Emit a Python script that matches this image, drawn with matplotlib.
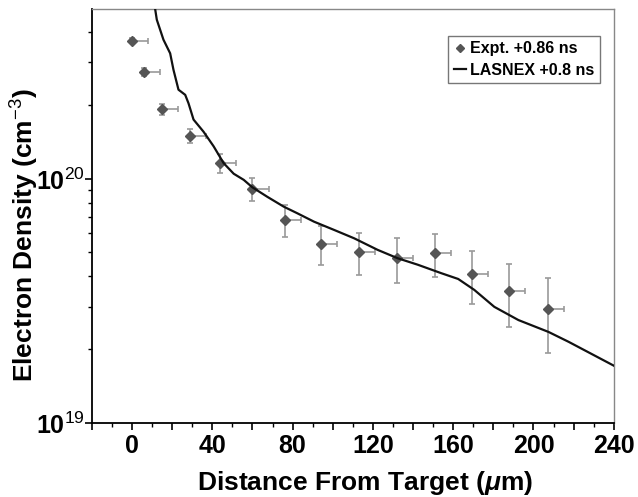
import matplotlib
matplotlib.use("Agg")
import matplotlib.pyplot as plt
from matplotlib.ticker import FixedLocator, FixedFormatter, LogLocator, NullFormatter, MultipleLocator
import numpy as np

plt.rcParams['font.family'] = ['Liberation Sans', 'DejaVu Sans']
plt.rcParams['mathtext.fontset'] = 'custom'
plt.rcParams['mathtext.rm'] = 'Liberation Sans'
plt.rcParams['mathtext.bf'] = 'Liberation Sans:bold'
plt.rcParams['mathtext.it'] = 'Liberation Sans:bold:italic'

# experiment (+0.86 ns), density in units of 1e19 cm^-3
expt_x = [0, 6, 15, 29, 44, 60, 76, 94, 113, 132, 151, 169.5, 188, 207]
expt_ne = [36.9, 27.4, 19.3, 15.0, 11.6, 9.1, 6.8, 5.43, 5.03, 4.73, 4.95, 4.08, 3.47, 2.93]
expt_yerr = [1.0] * len(expt_x)
expt_xerr = [8] * len(expt_x)

# LASNEX (+0.8 ns)
sim_x = [11.5, 12.35, 15.65, 19.0, 20.65, 23.15, 26.5, 28.15, 30.65, 35.65, 40.65,
         45.65, 50.65, 55.65, 59.85, 67.35, 75.65, 82.35, 90.65, 100.65, 110.65,
         122.35, 132.35, 142.35, 154, 162.5, 170.5, 180.5, 192.5, 207.5, 217.5, 241]
sim_ne = [49.8, 44.9, 37.2, 32.7, 28.0, 23.2, 22.1, 20.4, 17.5, 15.6, 13.6,
          11.6, 10.5, 9.91, 9.25, 8.45, 7.69, 7.23, 6.68, 6.18, 5.71,
          5.12, 4.73, 4.45, 4.11, 3.89, 3.51, 2.99, 2.64, 2.36, 2.15, 1.70]

scale = 1e19
ex = np.array(expt_x)
ey = np.array(expt_ne) * scale
eyerr = np.array(expt_yerr) * scale
exerr = [np.zeros(len(ex)), np.array(expt_xerr)]

fig = plt.figure(figsize=(6.38, 4.97), dpi=100)
ax = fig.add_axes([0.144, 0.149, 0.818, 0.833])

ax.errorbar(ex, ey, yerr=eyerr, xerr=exerr, fmt='none', ecolor='#9a9a9a',
            elinewidth=1.2, capsize=2.5, capthick=1.2, zorder=2)
ax.plot(ex, ey, 'D', color='#555555', ms=5.5, zorder=3, label='Expt. +0.86 ns')
ax.plot(sim_x, np.array(sim_ne) * scale, '-', color='#111111', lw=1.6, zorder=4,
        label='LASNEX +0.8 ns')

ax.set_yscale('log')
ax.set_xlim(-20, 240)
ax.set_ylim(1e19, 4.97e20)

xt = np.arange(-20, 241, 20)
ax.xaxis.set_major_locator(FixedLocator(xt))
ax.xaxis.set_major_formatter(FixedFormatter(['' if (v % 40) else str(int(v)) for v in xt]))
ax.xaxis.set_minor_locator(MultipleLocator(10))

ax.yaxis.set_major_locator(FixedLocator([1e19, 1e20]))
ax.yaxis.set_major_formatter(FixedFormatter([r'$\mathbf{10}^{\mathrm{19}}$', r'$\mathbf{10}^{\mathrm{20}}$']))
ax.yaxis.set_minor_locator(LogLocator(base=10, subs=np.arange(2, 10)))
ax.yaxis.set_minor_formatter(NullFormatter())

ax.tick_params(which='major', direction='out', length=5, width=1.2, labelsize=18, pad=3)
ax.tick_params(which='minor', direction='out', length=3, width=1.0)
ax.tick_params(axis='y', which='major', pad=0)
for lab in ax.get_xticklabels():
    lab.set_fontweight('bold')

for s in ['left', 'bottom']:
    ax.spines[s].set_linewidth(1.3)
    ax.spines[s].set_color('black')
for s in ['top', 'right']:
    ax.spines[s].set_linewidth(1.0)
    ax.spines[s].set_color('#888888')

ax.set_xlabel(r'Distance From Target ($\mathit{\mu}$m)', fontsize=19, fontweight='bold')
ax.set_ylabel(r'Electron Density (cm$^{\mathrm{-3}}$)', fontsize=19, fontweight='bold')
ax.xaxis.set_label_coords(0.523, -0.112)
ax.yaxis.set_label_coords(-0.098, 0.455)

leg = ax.legend(loc='upper right', bbox_to_anchor=(0.973, 0.935), borderaxespad=0,
                fancybox=False, edgecolor='#777777', framealpha=1, handlelength=0.75,
                handletextpad=0.25, borderpad=0.35, labelspacing=0.4, markerscale=0.8,
                prop={'size': 11.5, 'weight': 'bold'})
leg.get_frame().set_linewidth(1.0)

fig.savefig('out.png', dpi=100)
